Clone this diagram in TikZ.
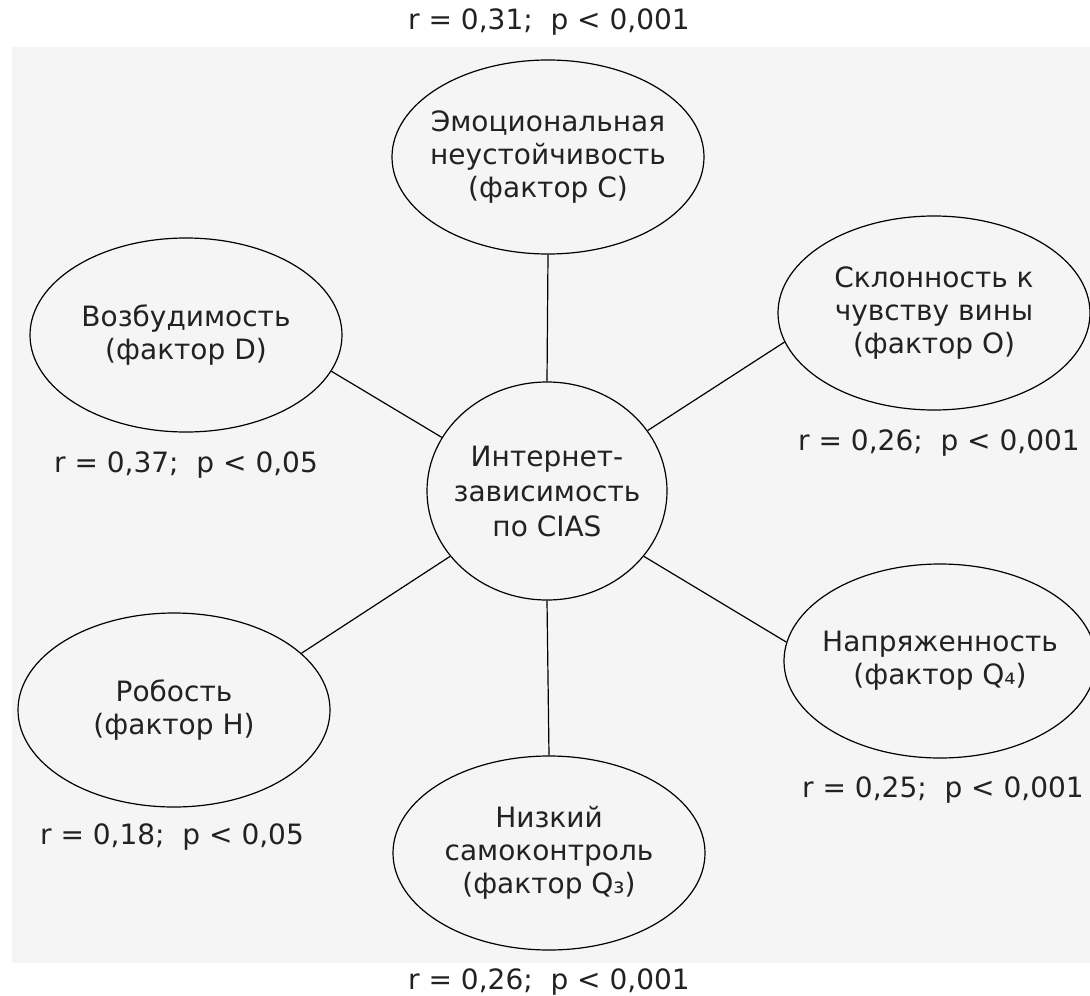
\documentclass[tikz,border=0pt]{standalone}
\usepackage{fontspec}
\setmainfont{DejaVu Sans}
\usetikzlibrary{shapes.geometric}
\definecolor{bgcol}{HTML}{F5F5F5}
\definecolor{txtcol}{HTML}{222222}
\tikzset{
  factor/.style={ellipse, draw=black, line width=1.2pt, minimum width=312pt, minimum height=194pt,
    inner sep=0pt},
  inside/.style={align=center, text=txtcol, inner sep=0pt, font=\fontsize{28}{33}\selectfont},
  hub/.style={ellipse, draw=black, line width=1.2pt, minimum width=240pt, minimum height=218pt,
    inner sep=0pt},
  stat/.style={text=txtcol, inner sep=0pt, font=\fontsize{28}{33}\selectfont},
  link/.style={draw=black, line width=1.2pt}
}
\begin{document}
\begin{tikzpicture}[x=1pt,y=-1pt]
\useasboundingbox (0,0) rectangle (1090,996);
\fill[bgcol] (12,47) rectangle (1090,963);

\node[hub, label={[inside, font=\fontsize{28}{35}\selectfont]center:Интернет-\\зависимость\\по CIAS}] (c) at (547,491) {};
\node[factor, label={[inside]center:Эмоциональная\\неустойчивость\\(фактор C)}] (C) at (548,157) {};
\node[factor, label={[inside]center:Возбудимость\\(фактор D)}] (D) at (186,335) {};
\node[factor, label={[inside]center:Склонность к\\чувству вины\\(фактор O)}] (O) at (934,313) {};
\node[factor, label={[inside]center:Робость\\(фактор H)}] (H) at (174,710) {};
\node[factor, label={[inside]center:Низкий\\самоконтроль\\(фактор Q₃)}] (Q3) at (549,853) {};
\node[factor, label={[inside]center:Напряженность\\(фактор Q₄)}] (Q4) at (940,661) {};

\node[stat] (sC) at (549,22) {r = 0,31;~~p < 0,001};
\node[stat] (sD) at (186,465) {r = 0,37;~~p < 0,05};
\node[stat] (sO) at (939,443) {r = 0,26;~~p < 0,001};
\node[stat] (sQ4) at (943,790) {r = 0,25;~~p < 0,001};
\node[stat] (sH) at (172,837) {r = 0,18;~~p < 0,05};
\node[stat] (sQ3) at (549,982) {r = 0,26;~~p < 0,001};

\draw[link] (c.north) -- (C.south);
\draw[link] (c.south) -- (Q3.north);
\draw[link] (c.153) -- (D.-14);
\draw[link] (c.31.5) -- (O.-169);
\draw[link] (c.214) -- (H.24.7);
\draw[link] (c.-34) -- (Q4.173);
\end{tikzpicture}
\end{document}
